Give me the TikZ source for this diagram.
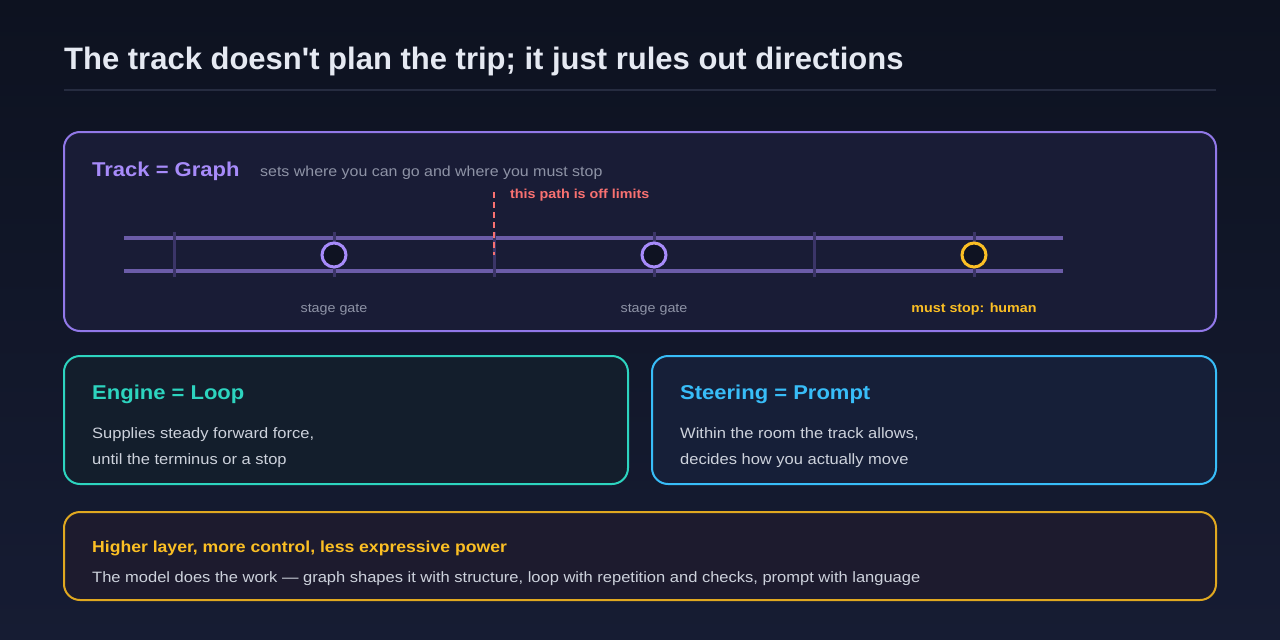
\documentclass[tikz,border=0pt]{standalone}
\usepackage{fontspec}
\setmainfont{Liberation Sans}[FakeStretch=1.1]
\newfontfamily\titlefont{Liberation Sans}
\definecolor{bgtop}{HTML}{0D1220}
\definecolor{bgbot}{HTML}{161C33}
\definecolor{titletext}{HTML}{E5E9F2}
\definecolor{ruleline}{HTML}{262C40}
\definecolor{trackline}{HTML}{9178E8}
\definecolor{trackfill}{HTML}{191C36}
\definecolor{trackhead}{HTML}{A78BFA}
\definecolor{railcol}{HTML}{6B5CA8}
\definecolor{tiecol}{HTML}{3B3568}
\definecolor{greytext}{HTML}{8E93A6}
\definecolor{offred}{HTML}{F87171}
\definecolor{stopamber}{HTML}{FBBF24}
\definecolor{gatefill}{HTML}{0F1322}
\definecolor{engineline}{HTML}{2DD4BF}
\definecolor{enginefill}{HTML}{131E2C}
\definecolor{steerline}{HTML}{38BDF8}
\definecolor{steerfill}{HTML}{161F38}
\definecolor{noteline}{HTML}{E0A820}
\definecolor{notefill}{HTML}{1D1B2E}
\definecolor{bodytext}{HTML}{CDD2DC}

\begin{document}
\begin{tikzpicture}[x=1pt, y=-1pt, inner sep=0pt,
        panel/.style={rounded corners=16pt, line width=2pt},
        head/.style={anchor=base west, font=\fontsize{20}{24}\selectfont\bfseries},
        body/.style={anchor=base west, text=bodytext, font=\fontsize{15}{18}\selectfont},
        small/.style={anchor=base, font=\fontsize{13}{16}\selectfont},
        smallbold/.style={font=\fontsize{13}{16}\selectfont\bfseries}]
        \useasboundingbox (0,0) rectangle (1280,640);
        \shade[top color=bgtop, bottom color=bgbot] (0,0) rectangle (1280,640);
        \node (title) at (64, 69) [anchor=base west, text=titletext, font=\titlefont\fontsize{31}{36}\selectfont\bfseries] {The track doesn\textquotesingle t plan the trip; it just rules out directions};
        \draw[ruleline, line width=1.5pt] (64, 90) -- (1216, 90);

        \draw[panel, draw=trackline, fill=trackfill] (64, 132) rectangle (1216, 331);
        \draw[panel, draw=engineline, fill=enginefill] (64, 356) rectangle (628, 484);
        \draw[panel, draw=steerline, fill=steerfill] (652, 356) rectangle (1216, 484);
        \draw[panel, draw=noteline, fill=notefill] (64, 512) rectangle (1216, 600);

        \draw[railcol, line width=4pt] (124, 238) -- (1063, 238);
        \draw[railcol, line width=4pt] (124, 271) -- (1063, 271);
        \foreach \x in {174, 334, 494, 654, 814, 974}
                \draw[tiecol, line width=3pt] (\x, 232) -- (\x, 277);
        \draw[offred, line width=2pt, dash pattern=on 6pt off 4pt] (494, 192) -- (494, 255);
        \filldraw[fill=gatefill, draw=trackhead, line width=3pt] (334, 255) circle (12);
        \filldraw[fill=gatefill, draw=trackhead, line width=3pt] (654, 255) circle (12);
        \filldraw[fill=gatefill, draw=stopamber, line width=3pt] (974, 255) circle (12);

        \node (track) at (92, 176) [head, text=trackhead] {Track = Graph};
        \node (tracksub) at (260, 176) [anchor=base west, text=greytext, font=\fontsize{14.5}{18}\selectfont] {sets where you can go and where you must stop};
        \node (offlimits) at (510, 198) [anchor=base west, text=offred, smallbold] {this path is off limits};
        \node (gate1) at (334, 312) [text=greytext, small] {stage gate};
        \node (gate2) at (654, 312) [text=greytext, small] {stage gate};
        \node (stop) at (974, 312) [anchor=base, text=stopamber, smallbold] {must stop: human};

        \node (engine) at (92, 399) [head, text=engineline] {Engine = Loop};
        \node (engine1) at (92, 438) [body] {Supplies steady forward force,};
        \node (engine2) at (92, 464) [body] {until the terminus or a stop};

        \node (steer) at (680, 399) [head, text=steerline] {Steering = Prompt};
        \node (steer1) at (680, 438) [body] {Within the room the track allows,};
        \node (steer2) at (680, 464) [body] {decides how you actually move};

        \node (note) at (92, 552) [anchor=base west, text=stopamber, font=\fontsize{16}{20}\selectfont\bfseries] {Higher layer, more control, less expressive power};
        \node (notebody) at (92, 582) [body] {The model does the work --- graph shapes it with structure, loop with repetition and checks, prompt with language};
\end{tikzpicture}
\end{document}
